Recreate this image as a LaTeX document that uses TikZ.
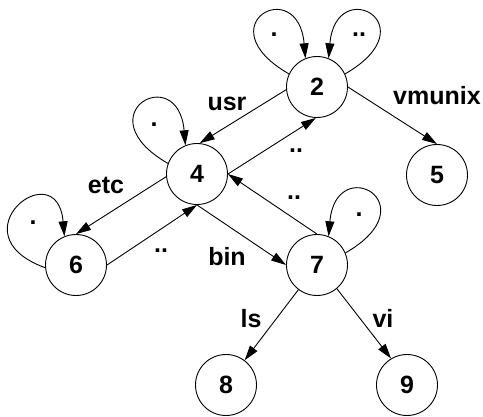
\documentclass[tikz,border=0pt]{standalone}
\usepackage{fontspec}
\setmainfont{Liberation Sans}
\usetikzlibrary{arrows.meta}
\begin{document}
\begin{tikzpicture}[x=1pt,y=1pt,
  st/.style={circle,draw,line width=0.9pt,minimum size=61pt,inner sep=0pt,font=\fontsize{25}{30}\selectfont\bfseries},
  lab/.style={anchor=base,inner sep=0pt,font=\fontsize{25}{30}\selectfont\bfseries},
  arr/.style={-{Triangle[length=15pt,width=9pt]},line width=0.9pt}]
\useasboundingbox (0,0) rectangle (483,-416);
\node[st] (n2) at (317,-87) {2};
\node[st] (n4) at (197,-174) {4};
\node[st] (n5) at (437,-175) {5};
\node[st] (n6) at (76,-265) {6};
\node[st] (n7) at (317,-265) {7};
\node[st] (n8) at (226,-385) {8};
\node[st] (n9) at (407,-385) {9};
% edges
\draw[arr] (n2.185) -- (n4.85);
\draw[arr] (n4.east) -- (n2.268);
\draw[arr] (n2.east) -- (n5.north);
\draw[arr] (n4.185) -- (n6.north);
\draw[arr] (n6.east) -- (n4.south);
\draw[arr] (n4.south) -- (n7.west);
\draw[arr] (n7.north) -- (n4.east);
\draw[arr] (n7.233) -- (n8.53);
\draw[arr] (n7.310) -- (n9.121);
% loops
\draw[arr] (n2.155) .. controls +(150:98) and +(95:85) .. (n2.112);
\draw[arr] (n2.25) .. controls +(30:98) and +(85:85) .. (n2.68);
\draw[arr] (n4.160) .. controls +(150:98) and +(95:85) .. (n4.112);
\draw[arr] (n6.185) .. controls +(160:98) and +(95:85) .. (n6.112);
\draw[arr] (n7.23) .. controls +(30:98) and +(85:85) .. (n7.68);
% labels
\node[lab] (lusr) at (227,-110) {usr};
\node[lab] (lvm) at (437,-104) {vmunix};
\node[lab] (ld42) at (296,-152) {..};
\node[lab] (letc) at (106,-193) {etc};
\node[lab] (ld74) at (294,-199) {..};
\node[lab] (ld64) at (161,-252) {..};
\node[lab] (lbin) at (227,-265) {bin};
\node[lab] (lls) at (251,-327) {ls};
\node[lab] (lvi) at (383,-327) {vi};
\node[lab] (ls2) at (274,-36) {.};
\node[lab] (ld2) at (359,-36) {..};
\node[lab] (ls4) at (154,-126) {.};
\node[lab] (ls6) at (33,-224) {.};
\node[lab] (ls7) at (359,-216) {.};
\end{tikzpicture}
\end{document}
